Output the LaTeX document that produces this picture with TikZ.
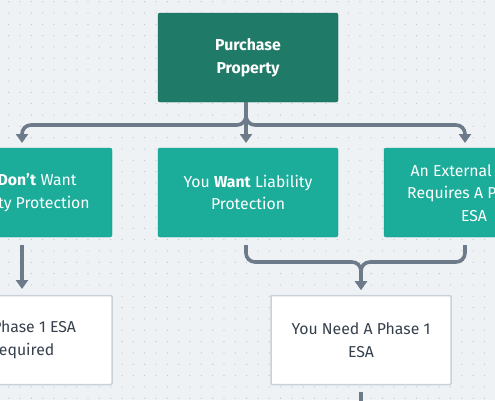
\documentclass[tikz,border=0pt]{standalone}
\usepackage{fontspec}
\setmainfont{Fira Sans}
\usetikzlibrary{arrows.meta}
\definecolor{bg}{HTML}{EFF2F5}
\definecolor{dotc}{HTML}{BEC6CF}
\definecolor{darkg}{HTML}{1F7A67}
\definecolor{teal}{HTML}{1BAC9A}
\definecolor{linec}{HTML}{6C7A8A}
\definecolor{wborder}{HTML}{C9D1D9}
\definecolor{txtd}{HTML}{36414D}
\tikzset{
  box/.style={minimum width=180pt, minimum height=89pt, rounded corners=2pt, align=center, inner sep=0pt,
    font=\fontsize{15.8}{22.5}\selectfont},
  topbox/.style={box, fill=darkg, draw=darkg!85!black, line width=0.4pt, text=white, font=\fontsize{15.8}{23}\selectfont\bfseries},
  tealbox/.style={box, fill=teal, draw=teal!90!black, line width=0.4pt, text=white},
  whitebox/.style={box, fill=white, draw=wborder, line width=1.5pt, rounded corners=1pt, text=txtd},
  conn/.style={draw=linec, line width=3.6pt, rounded corners=9pt},
  arr/.style={conn, -{Triangle[width=12pt,length=9pt]}},
}
\begin{document}
\begin{tikzpicture}[x=1pt,y=-1pt]
\useasboundingbox (0,0) rectangle (495,400);
\clip (0,0) rectangle (495,400);
\fill[bg] (0,0) rectangle (495,400);
\foreach \i in {0,...,44} {
  \foreach \j in {0,...,35} {
    \fill[dotc] (8.7+\i*11.33, 1.7+\j*11.33) circle (0.65);
  }
}
% nodes
\node[topbox] (buy) at (248,57.5) {Purchase\\Property};
\node[tealbox] (dont) at (22,192.5) {You \textbf{Don’t} Want\\Liability Protection};
\node[tealbox] (want) at (248,192.5) {You \textbf{Want} Liability\\Protection};
\node[tealbox] (ext) at (474,192.5) {An External Client\\Requires A Phase 1\\ESA};
\node[whitebox] (no) at (22,340) {No Phase 1 ESA\\Required};
\node[whitebox] (need) at (361,340) {You Need A Phase 1\\ESA};
% connectors
\coordinate (j1) at (246,125);
\coordinate (t1) at (246,102);
\draw[arr] (t1) -- (j1) -| (22,143);
\draw[arr] (t1) -- (j1) -| (465,143);
\draw[arr] (t1) -- (246,143);
\coordinate (d1) at (22,245);
\draw[arr] (d1) -- (22,289);
\coordinate (j2) at (361,262);
\coordinate (w1) at (246,245);
\coordinate (e1) at (465,245);
\draw[arr] (w1) |- (j2) -- (361,290);
\draw[arr] (e1) |- (j2) -- (361,290);
\coordinate (n1) at (361,392);
\coordinate (out) at (361,410);
\draw[conn] (n1) -- (out);
\end{tikzpicture}
\end{document}
